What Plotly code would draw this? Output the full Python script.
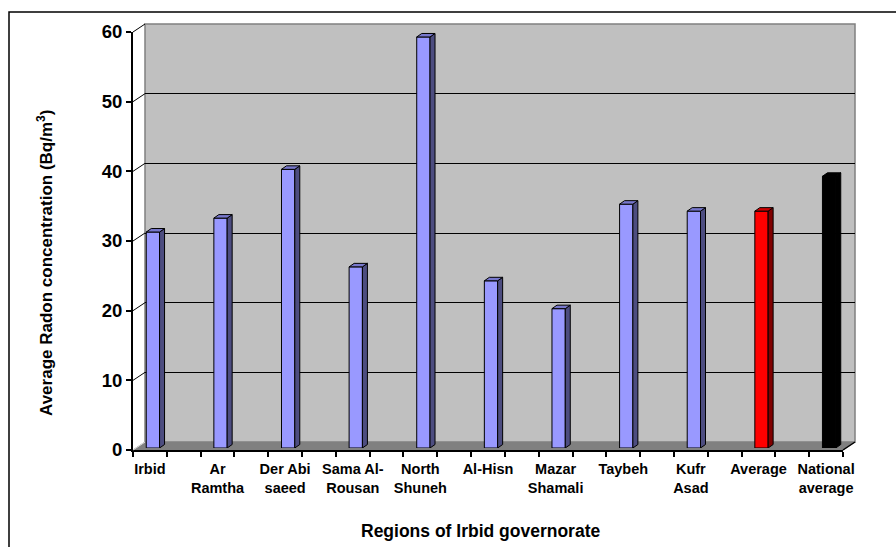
import plotly.graph_objects as go

# ---------------- data ----------------
regions = ["Irbid", "Ar Ramtha", "Der Abi saeed", "Sama Al-Rousan", "North Shuneh",
           "Al-Hisn", "Mazar Shamali", "Taybeh", "Kufr Asad", "Average", "National average"]
tick_labels = ["Irbid", "Ar<br>Ramtha", "Der Abi<br>saeed", "Sama Al-<br>Rousan",
               "North<br>Shuneh", "Al-Hisn", "Mazar<br>Shamali", "Taybeh", "Kufr<br>Asad",
               "Average", "National<br>average"]
radon = [31, 33, 40, 26, 59, 24, 20, 35, 34, 34, 39]
groups = ["region"] * 9 + ["average", "national"]
y_ticks = [0, 10, 20, 30, 40, 50, 60]

# ---------------- styles ----------------
palette = {
    "region": dict(front="#9999FF", top="#7777CC", side="#4D4D80"),
    "average": dict(front="#FF0000", top="#CC0000", side="#800000"),
    "national": dict(front="#000000", top="#000000", side="#000000"),
}
FONT = "Liberation Sans, Arial, sans-serif"
W, H = 896, 547
FX0, FX1, FY0, FY1 = 133, 843, 450, 32      # front plane (px)
DX, DY = 12, -8                              # wall depth offset (px)
BX, BY = 3, -2                               # bar front offset (px)
BDX, BDY = 5, -3.5                           # bar depth (px)
n = len(radon)
XMIN, XMAX = -0.5, 2 * n - 1.5
YMIN, YMAX = 0, 60
SX = (FX1 - FX0) / (XMAX - XMIN)
SY = (FY0 - FY1) / (YMAX - YMIN)
BAR_W = 13.3 / SX


def px(x):
    return x / W


def py(y):
    return 1 - y / H


def ypx(v):
    return FY0 - (v - YMIN) * SY


positions = [2 * i for i in range(n)]

fig = go.Figure()

# empty traces to create the front-axis and wall subplots
fig.add_trace(go.Scatter(x=[None], y=[None], xaxis="x2", yaxis="y2",
                         showlegend=False, hoverinfo="skip"))
fig.add_trace(go.Scatter(x=[None], y=[None], xaxis="x", yaxis="y",
                         showlegend=False, hoverinfo="skip"))

# bar front faces
fig.add_trace(go.Bar(
    x=positions, y=radon, width=BAR_W, xaxis="x3", yaxis="y3",
    marker=dict(color=[palette[g]["front"] for g in groups],
                line=dict(color="black", width=1)),
    showlegend=False, hovertext=regions, hoverinfo="text+y",
))

ddx = BDX / SX
ddy = -BDY / SY
for g in palette:
    sx, sy, tx, ty = [], [], [], []
    for c, v, gg in zip(positions, radon, groups):
        if gg != g:
            continue
        w = BAR_W / 2
        sx += [c + w, c + w + ddx, c + w + ddx, c + w, c + w, None]
        sy += [0, ddy, v + ddy, v, 0, None]
        tx += [c - w, c - w + ddx, c + w + ddx, c + w, c - w, None]
        ty += [v, v + ddy, v + ddy, v, v, None]
    fig.add_trace(go.Scatter(x=sx, y=sy, mode="lines", fill="toself",
                             fillcolor=palette[g]["side"],
                             line=dict(color="black", width=1),
                             xaxis="x3", yaxis="y3", showlegend=False, hoverinfo="skip"))
    fig.add_trace(go.Scatter(x=tx, y=ty, mode="lines", fill="toself",
                             fillcolor=palette[g]["top"],
                             line=dict(color="black", width=1),
                             xaxis="x3", yaxis="y3", showlegend=False, hoverinfo="skip"))

shapes = []
# outer border
shapes.append(dict(type="rect", xref="paper", yref="paper",
                   x0=px(9), x1=px(W + 5), y0=py(H + 5), y1=py(12),
                   line=dict(color="black", width=1.5), fillcolor="rgba(0,0,0,0)", layer="below"))
# floor
floor = (f"M {px(FX0)} {py(FY0)} L {px(FX1)} {py(FY0)} L {px(FX1 + DX)} {py(FY0 + DY)} "
         f"L {px(FX0 + DX)} {py(FY0 + DY)} Z")
shapes.append(dict(type="path", xref="paper", yref="paper", path=floor,
                   fillcolor="#808080", line=dict(color="#808080", width=1), layer="below"))
# back wall
shapes.append(dict(type="rect", xref="paper", yref="paper",
                   x0=px(FX0 + DX), x1=px(FX1 + DX), y0=py(FY0 + DY), y1=py(FY1 + DY),
                   fillcolor="#C0C0C0", line=dict(color="#808080", width=1.5), layer="below"))
# side-wall diagonals at each tick
for v in y_ticks:
    col = "#E0E0E0" if v == 0 else "black"
    shapes.append(dict(type="line", xref="paper", yref="paper",
                       x0=px(FX0), y0=py(ypx(v)), x1=px(FX0 + DX), y1=py(ypx(v) + DY),
                       line=dict(color=col, width=1)))
# right floor edge
shapes.append(dict(type="line", xref="paper", yref="paper",
                   x0=px(FX1), y0=py(FY0), x1=px(FX1 + DX), y1=py(FY0 + DY),
                   line=dict(color="black", width=1.5)))

fig.update_layout(
    width=W, height=H, autosize=False,
    margin=dict(l=0, r=0, t=0, b=0),
    paper_bgcolor="white", plot_bgcolor="rgba(0,0,0,0)",
    showlegend=False, shapes=shapes,
    font=dict(family=FONT, color="black"),
    xaxis=dict(domain=[px(FX0), px(FX1)], range=[XMIN, XMAX], anchor="y",
               tickmode="array", tickvals=positions, ticktext=tick_labels, ticks="",
               ticklabelstandoff=5,
               tickfont=dict(size=14.5, weight="bold", family=FONT),
               minor=dict(tickmode="linear", tick0=XMIN, dtick=1, ticks="outside",
                          ticklen=5, tickwidth=1.5, tickcolor="black", showgrid=False),
               showline=True, linecolor="black", linewidth=2, showgrid=False,
               zeroline=False, automargin=False, fixedrange=True),
    yaxis=dict(domain=[py(FY0), py(FY1)], range=[YMIN, YMAX], anchor="x",
               tickmode="array", tickvals=y_ticks, ticks="outside", ticklen=5,
               tickwidth=1.5, tickcolor="black",
               tickfont=dict(size=18.5, weight="bold", family=FONT),
               showline=True, linecolor="black", linewidth=2, showgrid=False,
               zeroline=False, automargin=False, fixedrange=True),
    xaxis2=dict(domain=[px(FX0 + DX), px(FX1 + DX)], range=[XMIN, XMAX], anchor="y2",
                showgrid=False, showticklabels=False, ticks="", showline=False,
                zeroline=False, automargin=False, fixedrange=True),
    yaxis2=dict(domain=[py(FY0 + DY), py(FY1 + DY)], range=[YMIN, YMAX], anchor="x2",
                tickmode="array", tickvals=y_ticks[1:-1], showgrid=True,
                gridcolor="black", gridwidth=1, showticklabels=False, ticks="",
                showline=False, zeroline=False, automargin=False, fixedrange=True),
    xaxis3=dict(domain=[px(FX0 + BX), px(FX1 + BX)], range=[XMIN, XMAX], anchor="y3",
                visible=False, fixedrange=True),
    yaxis3=dict(domain=[py(FY0 + BY), py(FY1 + BY)], range=[YMIN, YMAX], anchor="x3",
                visible=False, fixedrange=True),
    annotations=[
        dict(text="Average Radon concentration (Bq/m<sup>3</sup>)", xref="paper", yref="paper",
             x=px(45), y=py(263), textangle=-90, showarrow=False,
             font=dict(size=17, weight="bold", family=FONT), xanchor="center", yanchor="middle"),
        dict(text="Regions of Irbid governorate", xref="paper", yref="paper",
             x=px(480), y=py(531), showarrow=False,
             font=dict(size=17.5, weight="bold", family=FONT), xanchor="center", yanchor="middle"),
    ],
)

fig.write_html("out.html")
